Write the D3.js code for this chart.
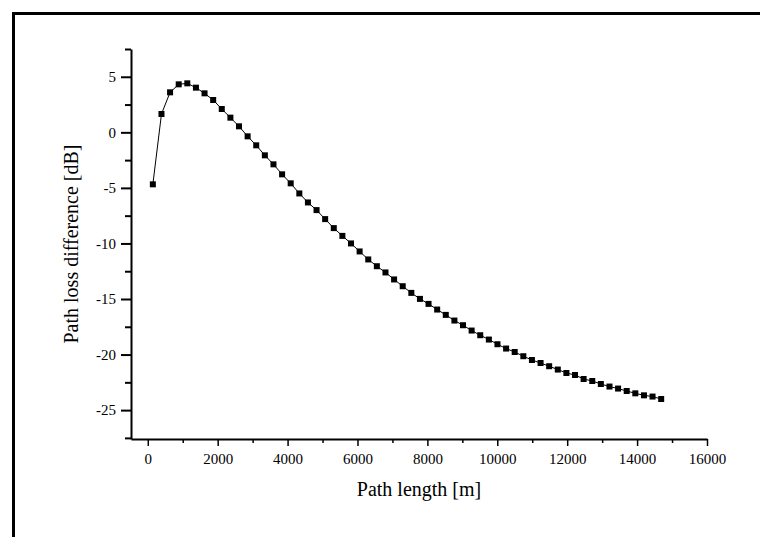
<!DOCTYPE html>
<html lang="en">
<head>
  <meta charset="UTF-8">
  <title>Path loss difference</title>
  <style>
    body { margin: 0; background: #fff; }
    svg { display: block; }
  </style>
</head>
<body>
  <svg id="svg" width="760" height="537"></svg>

  <script src="https://d3js.org/d3.v7.min.js"></script>
  <script>
    // path length [m]
    const pathLength = [145, 392, 638, 885, 1131, 1378, 1624, 1871, 2117, 2364,
      2610, 2857, 3103, 3350, 3596, 3843, 4089, 4336, 4582, 4829,
      5075, 5322, 5568, 5815, 6061, 6308, 6554, 6801, 7047, 7294,
      7540, 7787, 8033, 8280, 8526, 8773, 9019, 9266, 9512, 9759,
      10005, 10252, 10498, 10745, 10991, 11238, 11484, 11731, 11977, 12224,
      12470, 12717, 12963, 13210, 13456, 13703, 13949, 14196, 14442, 14689]

    // path loss difference [dB]
    const lossDiff = [-4.68, 1.65, 3.6, 4.32, 4.41, 4.02, 3.51, 2.91, 2.1, 1.32,
      0.54, -0.36, -1.17, -2.07, -2.88, -3.78, -4.59, -5.5, -6.31, -7.0,
      -7.81, -8.62, -9.32, -10.0, -10.72, -11.44, -12.05, -12.61, -13.24, -13.85,
      -14.45, -14.99, -15.44, -15.95, -16.43, -16.94, -17.36, -17.84, -18.26, -18.65,
      -19.07, -19.46, -19.77, -20.15, -20.49, -20.76, -21.05, -21.35, -21.66, -21.84,
      -22.2, -22.38, -22.65, -22.88, -23.06, -23.28, -23.49, -23.67, -23.78, -24.0]

    const xTicks = [0, 2000, 4000, 6000, 8000, 10000, 12000, 14000, 16000]
    const xMinor = [1000, 3000, 5000, 7000, 9000, 11000, 13000, 15000]
    const yTicks = [5, 0, -5, -10, -15, -20, -25]
    const yMinor = [7.5, 2.5, -2.5, -7.5, -12.5, -17.5, -22.5, -27.5]

    const FONT = 'Liberation Serif'

    const data = pathLength.map((x, i) => ({ x: x, y: lossDiff[i] }))

    const svg = d3.select('#svg')

    // outer frame (only top and left show in the crop)
    svg.append('rect')
      .attr('x', 13.5).attr('y', 13.5)
      .attr('width', 800).attr('height', 600)
      .attr('fill', 'none')
      .attr('stroke', '#000')
      .attr('stroke-width', 3)

    const xScale = d3.scaleLinear()
      .domain([-480, 16000])
      .range([131, 707])

    const yScale = d3.scaleLinear()
      .domain([-27.6, 7.5])
      .range([439, 49])

    // x axis
    svg.append('g')
      .attr('transform', 'translate(0,439)')
      .call(d3.axisBottom(xScale).tickValues(xMinor).tickSize(4).tickFormat(''))
      .call(g => g.select('.domain').remove())
      .selectAll('line').attr('stroke-width', 1.5)

    const xAxis = svg.append('g')
      .attr('transform', 'translate(0,439)')
      .call(d3.axisBottom(xScale).tickValues(xTicks).tickSizeInner(7).tickSizeOuter(0).tickPadding(7).tickFormat(d => String(d)))
      .attr('font-family', FONT)
      .attr('font-size', 15)
    xAxis.select('.domain').attr('stroke-width', 2)
    xAxis.selectAll('line').attr('stroke-width', 1.5)

    // y axis
    svg.append('g')
      .attr('transform', 'translate(131,0)')
      .call(d3.axisLeft(yScale).tickValues(yMinor).tickSize(6).tickFormat(''))
      .call(g => g.select('.domain').remove())
      .selectAll('line').attr('stroke-width', 2)

    const yAxis = svg.append('g')
      .attr('transform', 'translate(131,0)')
      .call(d3.axisLeft(yScale).tickValues(yTicks).tickSizeInner(10).tickSizeOuter(0).tickPadding(5).tickFormat(d => String(d)))
      .attr('font-family', FONT)
      .attr('font-size', 15)
    yAxis.select('.domain').attr('stroke-width', 2)
    yAxis.selectAll('line').attr('stroke-width', 2)

    // line + square markers
    const line = d3.line()
      .x(d => xScale(d.x))
      .y(d => yScale(d.y))

    svg.append('path')
      .datum(data)
      .attr('d', line)
      .attr('fill', 'none')
      .attr('stroke', '#000')
      .attr('stroke-width', 1)

    svg.selectAll('rect.pt')
      .data(data)
      .enter()
      .append('rect')
      .attr('class', 'pt')
      .attr('x', d => xScale(d.x) - 3)
      .attr('y', d => yScale(d.y) - 3)
      .attr('width', 6)
      .attr('height', 6)
      .attr('fill', '#000')

    // axis titles
    svg.append('text')
      .attr('x', 419)
      .attr('y', 496)
      .attr('text-anchor', 'middle')
      .attr('font-family', FONT)
      .attr('font-size', 20)
      .text('Path length [m]')

    svg.append('text')
      .attr('transform', 'translate(78,244) rotate(-90)')
      .attr('text-anchor', 'middle')
      .attr('font-family', FONT)
      .attr('font-size', 20)
      .text('Path loss difference [dB]')
  </script>
</body>
</html>
